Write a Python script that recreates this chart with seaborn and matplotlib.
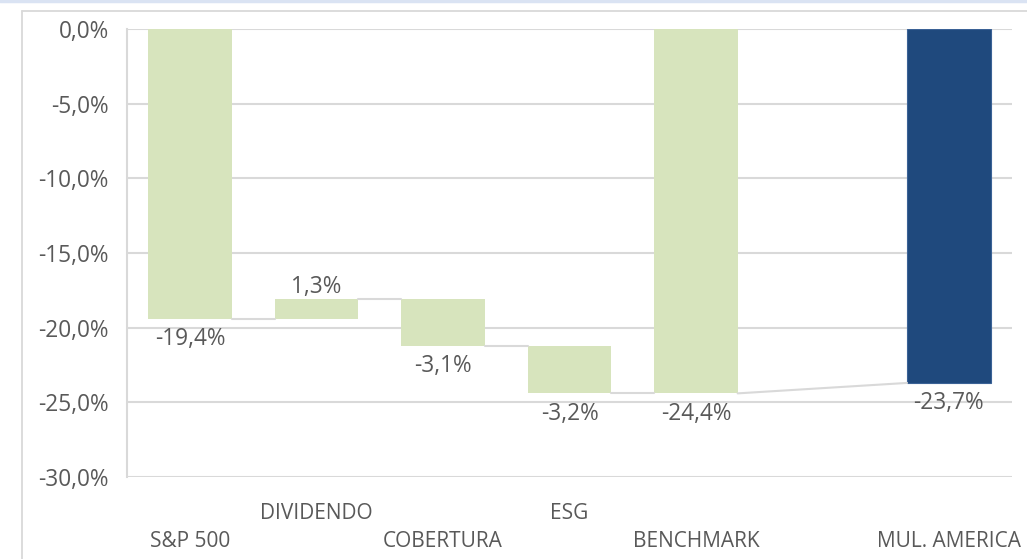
import numpy as np
import pandas as pd
import matplotlib.pyplot as plt
from matplotlib.lines import Line2D
from matplotlib.transforms import blended_transform_factory
import seaborn as sns

# waterfall data (%)
step_cats = ["S&P 500", "DIVIDENDO", "COBERTURA", "ESG"]
step_values = [-19.4, 1.3, -3.1, -3.2]
bench_cat = "BENCHMARK"
bench_value = -24.4
fund_cat = "MUL. AMERICA"
fund_value = -23.7
y_ticks = [0, -5, -10, -15, -20, -25, -30]

order = step_cats + [bench_cat, " ", fund_cat]
label_row = [0, 1, 0, 1, 0, None, 0]  # 0 = lower row, 1 = upper row

GREEN = "#d7e4bd"
BLUE = "#1f497d"
GRID = "#d9d9d9"
TEXT = "#595959"

sns.set_theme(style="white")
plt.rcParams["font.family"] = ["Open Sans", "DejaVu Sans"]

ends = np.cumsum(step_values)
starts = np.concatenate([[0], ends[:-1]])
green = pd.DataFrame({
    "cat": step_cats + [bench_cat],
    "height": list(step_values) + [bench_value],
    "bottom": list(starts) + [0.0],
})
blue = pd.DataFrame({"cat": [fund_cat], "height": [fund_value]})

fig = plt.figure(figsize=(10.27, 5.59), dpi=100)
ax = fig.add_axes([127 / 1027, 82 / 559, 885 / 1027, 448 / 559])

w = 0.66
sns.barplot(data=green, x="cat", y="height", order=order, bottom=green["bottom"].values,
            color=GREEN, saturation=1, width=w, errorbar=None, linewidth=0, ax=ax)
sns.barplot(data=blue, x="cat", y="height", order=order, color=BLUE, saturation=1,
            width=w, errorbar=None, edgecolor="#3b6296", linewidth=0.8, ax=ax)
ax.set_xlim(-0.5, len(order) - 0.5)

# connectors
for i, lv in enumerate(ends):
    ax.plot([i + w / 2, i + 1 - w / 2], [lv, lv], color=GRID, lw=1.5, zorder=1)
ib, ifund = order.index(bench_cat), order.index(fund_cat)
ax.plot([ib + w / 2, ifund - w / 2], [bench_value, fund_value], color=GRID, lw=1.5, zorder=1)

def fmt(v):
    return f"{v:.1f}".replace(".", ",") + "%"

# data labels
FS = 16.3
for i, (s, v) in enumerate(zip(starts, step_values)):
    end = s + v
    dy = 9 if v >= 0 else -14.5
    ax.annotate(fmt(v), (i, end), xytext=(0, dy), textcoords="offset points",
                ha="center", va="center", fontsize=FS, color=TEXT)
for cat, v in [(bench_cat, bench_value), (fund_cat, fund_value)]:
    ax.annotate(fmt(v), (order.index(cat), v), xytext=(0, -14.5), textcoords="offset points",
                ha="center", va="center", fontsize=FS, color=TEXT)

ax.set_ylim(-30, 0)
ax.set_yticks(y_ticks)
ax.set_yticklabels([fmt(t) for t in y_ticks])
ax.tick_params(axis="y", length=0, pad=13, labelsize=FS, labelcolor=TEXT)
ax.set_xticks([])
ax.set_xlabel("")
ax.set_ylabel("")
ax.yaxis.grid(True, color=GRID, lw=1.5)
ax.set_axisbelow(True)
for sp in ["top", "right", "bottom"]:
    ax.spines[sp].set_visible(False)
ax.spines["left"].set_color(GRID)
ax.spines["left"].set_linewidth(1.5)

# staggered category labels
trans = blended_transform_factory(ax.transData, ax.transAxes)
for i, (cat, row) in enumerate(zip(order, label_row)):
    if row is None:
        continue
    y = -0.082 if row == 1 else -0.145
    ax.text(i, y, cat, transform=trans, ha="center", va="center", fontsize=15,
            color=TEXT)

# outer frame
fig.add_artist(Line2D([0, 1], [1 - 1 / 559, 1 - 1 / 559], color="#dae3f3", lw=2.5,
                      transform=fig.transFigure))
fig.add_artist(Line2D([22 / 1027, 1], [1 - 11 / 559, 1 - 11 / 559], color=GRID, lw=1.3,
                      transform=fig.transFigure))
fig.add_artist(Line2D([22 / 1027, 22 / 1027], [0, 1 - 11 / 559], color=GRID, lw=1.3,
                      transform=fig.transFigure))

fig.savefig("out.png", dpi=100)
